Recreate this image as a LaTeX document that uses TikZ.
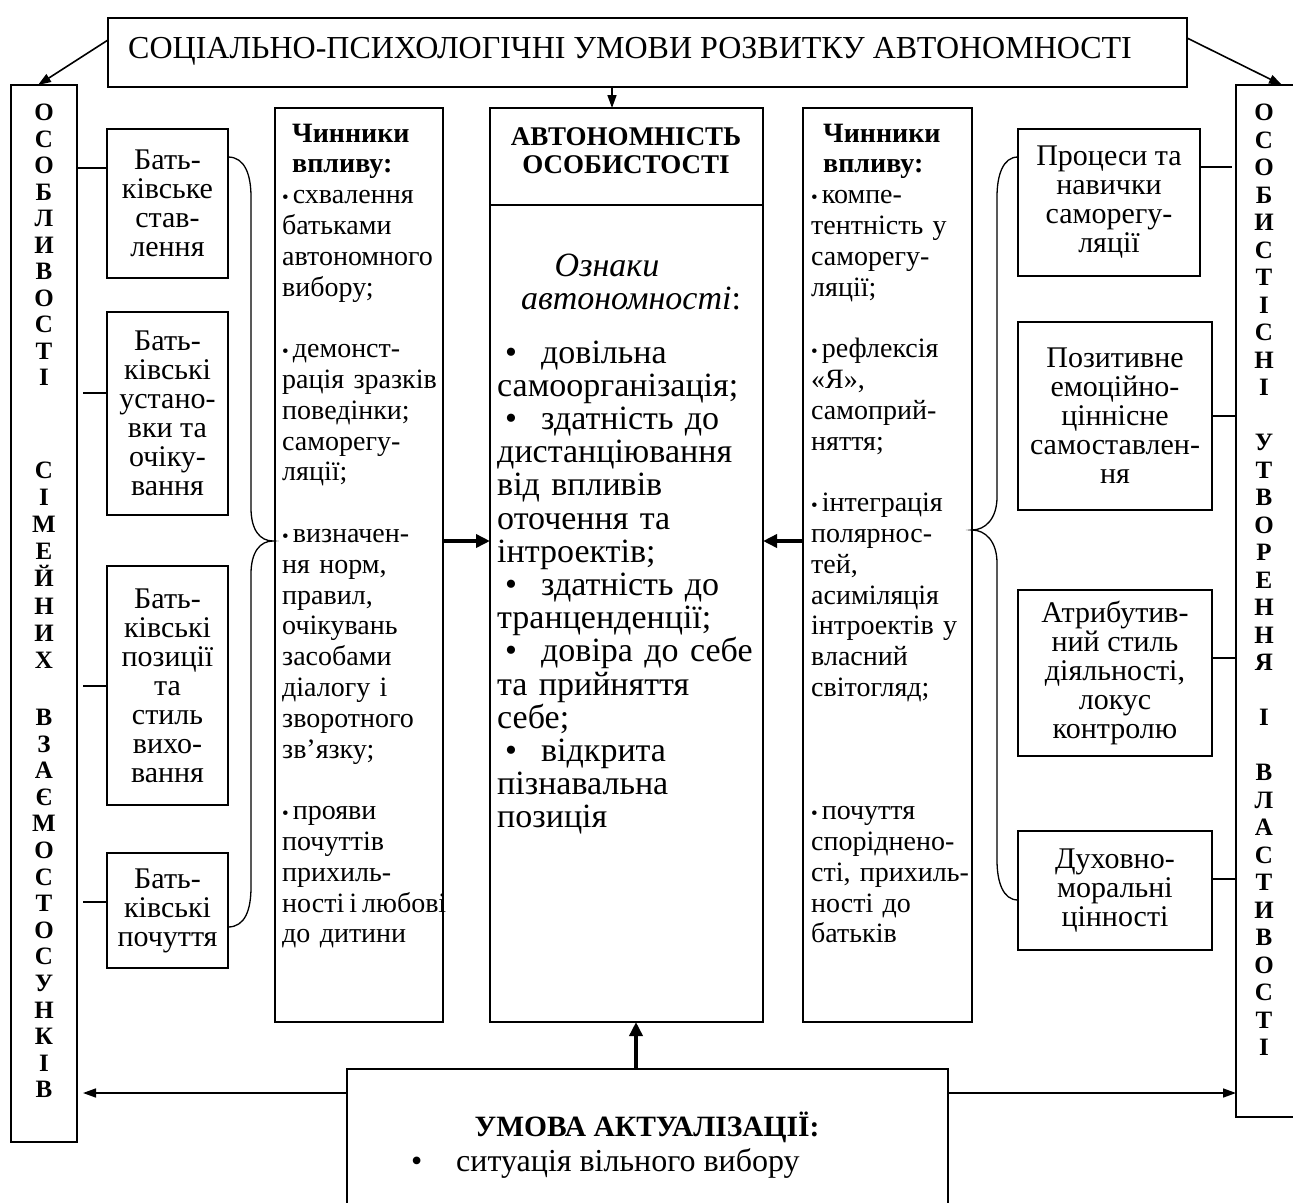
\documentclass[tikz,border=0pt]{standalone}
\usepackage{fontspec}
\setmainfont{Liberation Serif}
\usetikzlibrary{arrows.meta,calc}
\newcommand{\mybul}{{\fontsize{19}{19}\selectfont •}\hspace{4pt}}
\newcommand{\cbul}{\hspace*{8pt}\makebox[36pt][l]{•}}
\tikzset{
 box/.style={draw, line width=1.6pt, inner sep=0pt, outer sep=0pt, anchor=north west},
 conn/.style={line width=1.6pt},
 arr/.style={line width=1.6pt, -{Triangle[length=13pt,width=9pt]}},
 bigarr/.style={line width=4pt, -{Triangle[length=14pt,width=13pt]}},
 brace/.style={line width=1.3pt},
 boxtxt/.style={align=center, font=\fontsize{30}{29}\selectfont},
 coltxt/.style={align=center, text width=40pt, inner sep=0pt, anchor=base},
 ftxt/.style={align=left, text width=200pt, inner sep=0pt, anchor=base west, font=\fontsize{28}{30.8}\selectfont},
}
\begin{document}
\begin{tikzpicture}[x=1pt,y=-1pt]
\useasboundingbox (0,0) rectangle (1293,1202);
\clip (0,0) rectangle (1293,1202);
\fill[white] (0,0) rectangle (1293,1202);
% boxes
\node[box, minimum width=1079pt, minimum height=69pt] (tb) at (108,18) {};
\node[anchor=base west, inner sep=0pt, font=\fontsize{32}{32}\selectfont] (tt) at (128,58) {СОЦІАЛЬНО-ПСИХОЛОГІЧНІ УМОВИ РОЗВИТКУ АВТОНОМНОСТІ};
\node[box, minimum width=66pt, minimum height=1057pt] (lc) at (11,85) {};
\node[box, minimum width=70pt, minimum height=1032pt] (rc) at (1236,85) {};
\node[box, minimum width=121pt, minimum height=149pt, boxtxt] (b1) at (107,129) {Бать-\\ківське\\став-\\лення};
\node[box, minimum width=121pt, minimum height=203pt, boxtxt] (b2) at (107,312) {Бать-\\ківські\\устано-\\вки та\\очіку-\\вання};
\node[box, minimum width=121pt, minimum height=239pt, boxtxt] (b3) at (107,566) {Бать-\\ківські\\позиції\\та\\стиль\\вихо-\\вання};
\node[box, minimum width=121pt, minimum height=115pt, boxtxt] (b4) at (107,853) {Бать-\\ківські\\почуття};
\node[box, minimum width=168pt, minimum height=914pt] (lf) at (275,108) {};
\node[box, minimum width=273pt, minimum height=914pt] (cb) at (490,108) {};
\node[box, minimum width=169pt, minimum height=914pt] (rf) at (803,108) {};
\node[box, minimum width=182pt, minimum height=147pt, boxtxt] (r1) at (1018,129) {Процеси та\\навички\\саморегу-\\ляції};
\node[box, minimum width=194pt, minimum height=188pt, boxtxt] (r2) at (1018,322) {Позитивне\\емоційно-\\ціннісне\\самоставлен-\\ня};
\node[box, minimum width=194pt, minimum height=166pt, boxtxt] (r3) at (1018,590) {Атрибутив-\\ний стиль\\діяльності,\\локус\\контролю};
\node[box, minimum width=194pt, minimum height=119pt, boxtxt] (r4) at (1018,831) {Духовно-\\моральні\\цінності};
\node[box, minimum width=601pt, minimum height=160pt] (bb) at (347,1069) {};
% column letters
\node[coltxt, font=\bfseries\fontsize{25}{26.5}\selectfont] (lct1) at (44,120.5) {О\\С\\О\\Б\\Л\\И\\В\\О\\С\\Т\\І};
\node[coltxt, font=\bfseries\fontsize{25}{27.1}\selectfont] (lct2) at (44,478.5) {С\\І\\М\\Е\\Й\\Н\\И\\Х};
\node[coltxt, font=\bfseries\fontsize{25}{26.6}\selectfont] (lct3) at (44,725.5) {В\\З\\А\\Є\\М\\О\\С\\Т\\О\\С\\У\\Н\\К\\І\\В};
\node[coltxt, font=\bfseries\fontsize{25}{27.5}\selectfont] (rct) at (1264,120.5) {О\\С\\О\\Б\\И\\С\\Т\\І\\С\\Н\\І\\\mbox{}\\У\\Т\\В\\О\\Р\\Е\\Н\\Н\\Я\\\mbox{}\\І\\\mbox{}\\В\\Л\\А\\С\\Т\\И\\В\\О\\С\\Т\\І};
% factor texts
\node[ftxt] (lft) at (282,142) {\hspace*{10pt}{\bfseries Чинники}\\\hspace*{10pt}{\bfseries впливу:}\\\mybul схвалення\\батьками\\автономного\\вибору;\\\mbox{}\\\mybul демонст-\\рація зразків\\поведінки;\\саморегу-\\ляції;\\\mbox{}\\\mybul визначен-\\ня норм,\\правил,\\очікувань\\засобами\\діалогу і\\зворотного\\зв’язку;\\\mbox{}\\\mybul прояви\\почуттів\\прихиль-\\ності\hspace{5pt}і\hspace{5pt}любові\\до дитини};
\node[ftxt] (rft) at (811,142) {\hspace*{12pt}{\bfseries Чинники}\\\hspace*{12pt}{\bfseries впливу:}\\\mybul компе-\\тентність у\\саморегу-\\ляції;\\\mbox{}\\\mybul рефлексія\\«Я»,\\самоприй-\\няття;\\\mbox{}\\\mybul інтеграція\\полярнос-\\тей,\\асиміляція\\інтроектів у\\власний\\світогляд;\\\mbox{}\\\mbox{}\\\mbox{}\\\mybul почуття\\споріднено-\\сті, прихиль-\\ності до\\батьків};
% center texts
\coordinate (dv) at (490,205);
\draw[conn] (dv) -- (dv -| cb.east);
\node[align=center, inner sep=0pt, font=\bfseries\fontsize{27}{28}\selectfont] (cbh) at (626,151) {АВТОНОМНІСТЬ\\ОСОБИСТОСТІ};
\node[inner sep=0pt, font=\itshape\fontsize{34}{34}\selectfont] (oz1) at (607,265) {Ознаки};
\node[inner sep=0pt, font=\fontsize{34}{34}\selectfont] (oz2) at (631,298) {\textit{автономності}:};
\node[anchor=base west, align=left, text width=270pt, inner sep=0pt, font=\fontsize{34}{33.2}\selectfont] (cbt) at (497,363) {\cbul довільна\\самоорганізація;\\\cbul здатність до\\дистанціювання\\від впливів\\оточення та\\інтроектів;\\\cbul здатність до\\транценденції;\\\cbul довіра до себе\\та прийняття\\себе;\\\cbul відкрита\\пізнавальна\\позиція};
% bottom texts
\node[inner sep=0pt, font=\bfseries\fontsize{29.5}{30}\selectfont] (bt1) at (647,1127) {УМОВА АКТУАЛІЗАЦІЇ:};
\node[anchor=base west, inner sep=0pt, font=\fontsize{32}{32}\selectfont] (bt2) at (411,1171) {\makebox[45pt][l]{•}ситуація вільного вибору};
% connectors left
\coordinate (k1) at (77,168); \draw[conn] (k1) -- (k1 -| b1.west);
\coordinate (k2) at (83,393); \draw[conn] (k2) -- (k2 -| b2.west);
\coordinate (k3) at (83,686); \draw[conn] (k3) -- (k3 -| b3.west);
\coordinate (k4) at (83,902); \draw[conn] (k4) -- (k4 -| b4.west);
% connectors right
\coordinate (q1) at (1232,167); \draw[conn] (r1.east |- q1) -- (q1);
\coordinate (q2) at (1236,416); \draw[conn] (r2.east |- q2) -- (q2);
\coordinate (q3) at (1236,658); \draw[conn] (r3.east |- q3) -- (q3);
\coordinate (q4) at (1236,879); \draw[conn] (r4.east |- q4) -- (q4);
% braces
\draw[brace] (228,157) .. controls (245,157) and (251,175) .. (251,197) -- (251,508) .. controls (251,530) and (260,541) .. (273,541) .. controls (260,541) and (251,552) .. (251,574) -- (251,887) .. controls (251,910) and (245,927) .. (228,927);
\draw[brace] (1018,157) .. controls (1003,157) and (997,175) .. (997,197) -- (997,497) .. controls (997,519) and (985,530) .. (972,530) .. controls (985,530) and (997,541) .. (997,563) -- (997,860) .. controls (997,882) and (1003,900) .. (1018,900);
% arrows
\coordinate (ta) at (108,40); \coordinate (tae) at (38,85);
\draw[arr] (ta) -- (tae);
\coordinate (tc) at (1187,38); \coordinate (tce) at (1282,85);
\draw[arr] (tc) -- (tce);
\coordinate (cbtop) at (612,108);
\draw[arr] (tb.south -| cbtop) -- (cbtop);
\coordinate (ma) at (443,541); \draw[bigarr] (ma) -- (ma -| cb.west);
\coordinate (mb) at (803,541); \draw[bigarr] (mb) -- (mb -| cb.east);
\coordinate (ua) at (636,1069); \draw[bigarr] (ua) -- (ua |- cb.south);
\coordinate (bl) at (347,1093); \coordinate (ble) at (83,1093);
\draw[arr] (bl) -- (ble);
\coordinate (br) at (948,1093);
\draw[arr] (br) -- (br -| rc.west);
\end{tikzpicture}
\end{document}
